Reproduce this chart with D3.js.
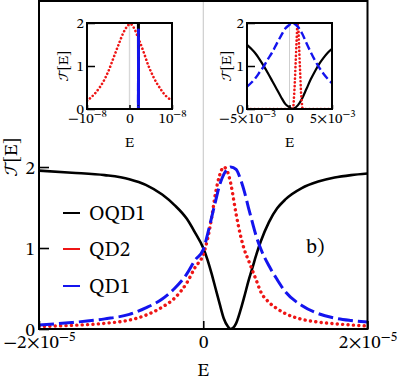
<!DOCTYPE html>
<html><head><meta charset="utf-8">
<script src="https://cdn.jsdelivr.net/npm/d3@7"></script>
<style>
svg text, svg tspan { font-family: "STIX Two Math" !important; }
</style>
</head><body style="margin:0">
<svg id="c" width="399" height="382"></svg>
<script>
// ---------------- DATA ----------------
// Main panel
const mainE = [-2.0e-5,-1.6e-5,-1.2e-5,-0.9e-5,-0.7e-5,-0.5e-5,-0.35e-5,-0.2e-5,-0.1e-5,0,
  0.05e-5,0.1e-5,0.15e-5,0.2e-5,0.25e-5,0.3e-5,0.334e-5,0.4e-5,0.45e-5,0.5e-5,
  0.55e-5,0.6e-5,0.65e-5,0.7e-5,0.8e-5,0.9e-5,1.0e-5,1.2e-5,1.4e-5,1.6e-5,1.8e-5,2.0e-5];
const mainOQD1 = [1.955,1.93,1.90,1.85,1.78,1.66,1.53,1.36,1.19,1.00,
  0.86,0.69,0.50,0.31,0.13,0.03,0.0,0.07,0.22,0.40,
  0.59,0.76,0.93,1.08,1.32,1.49,1.60,1.74,1.82,1.87,1.90,1.92];
const mainQD2 = [0.03,0.045,0.07,0.11,0.17,0.27,0.38,0.57,0.76,0.92,
  1.10,1.36,1.68,1.90,2.00,1.93,1.80,1.42,1.17,0.98,
  0.85,0.72,0.59,0.46,0.33,0.25,0.19,0.12,0.085,0.065,0.05,0.037];
const mainQD1 = [0.05,0.08,0.125,0.18,0.26,0.37,0.50,0.68,0.85,0.98,
  1.16,1.37,1.58,1.78,1.91,1.98,2.00,1.97,1.86,1.70,
  1.50,1.31,1.13,0.99,0.78,0.61,0.46,0.29,0.19,0.135,0.105,0.085];
const mainXTicks = [-2e-5, 0, 2e-5];
const mainYTicks = [0, 1, 2];
const legendLabels = ["OQD1", "QD2", "QD1"];

// Left inset (E ~ 1e-8)
const insLRedE   = [-1e-8,-0.78e-8,-0.62e-8,-0.5e-8,-0.38e-8,-0.26e-8,-0.15e-8,-0.03e-8,0.02e-8,0.09e-8,0.21e-8,0.33e-8,0.44e-8,0.56e-8,0.72e-8,0.87e-8,1e-8];
const insLQD2    = [0.19,0.40,0.63,0.87,1.18,1.49,1.76,1.95,1.98,1.91,1.64,1.33,1.02,0.75,0.48,0.29,0.20];
const insLSpikeE = [-1e-8,0.2e-8,0.205e-8,0.215e-8,0.22e-8,1e-8];
const insLQD1    = [0,0,1.84,1.84,0,0];
const insLOQD1   = [2,2,0,0,2,2];
const insLXTicks = [-1e-8, 0, 1e-8];
const insYTicks  = [0, 1, 2];

// Right inset (E ~ 1e-3)
const insRE = [-5e-3,-4.5e-3,-4e-3,-3.5e-3,-3e-3,-2.5e-3,-2e-3,-1.5e-3,-1e-3,-0.5e-3,0,0.3e-3,0.5e-3,1e-3,1.5e-3,2e-3,2.5e-3,3e-3,3.5e-3,4e-3,4.5e-3,5e-3];
const insRQD1  = [0.52,0.61,0.72,0.86,1.00,1.17,1.33,1.52,1.70,1.87,1.96,2.00,1.99,1.91,1.75,1.53,1.32,1.13,0.96,0.82,0.70,0.60];
const insROQD1 = [1.49,1.40,1.29,1.15,0.99,0.82,0.64,0.46,0.28,0.12,0.04,0.0,0.01,0.09,0.25,0.47,0.69,0.88,1.05,1.19,1.31,1.40];
const insRRedE = [-5e-3,0.3e-3,0.45e-3,0.6e-3,0.75e-3,0.9e-3,0.95e-3,1.05e-3,1.2e-3,1.35e-3,1.5e-3,1.7e-3,5e-3];
const insRQD2  = [0,0,0.03,0.5,1.2,1.9,2.0,1.85,1.1,0.4,0.03,0,0];
const insRXTicks = [-5e-3, 0, 5e-3];

// ---------------- STYLES ----------------
const FONT = "STIX Two Math";
const COL = {OQD1:"#000000", QD2:"#ee1515", QD1:"#1414ee"};

const svg = d3.select("#c");
let clipId = 0;

function fmtTick(v){
  if (v === 0) return {base:"0", sup:null};
  const e = Math.floor(Math.log10(Math.abs(v)) + 1e-9);
  const m = Math.round(v / Math.pow(10, e));
  const sign = m < 0 ? "\u2212" : "";
  const am = Math.abs(m);
  const base = am === 1 ? sign + "10" : sign + am + "\u00d710";
  const sup = (e < 0 ? "\u2212" : "") + Math.abs(e);
  return {base, sup};
}

function txt(sel, size){
  return sel.attr("font-family", FONT).attr("font-size", size);
}

function panel(cfg){
  const x = d3.scaleLinear().domain(cfg.xDomain).range([cfg.x0, cfg.x1]);
  const y = d3.scaleLinear().domain(cfg.yDomain).range([cfg.y1, cfg.y0]);
  const g = svg.append("g");
  if (cfg.bg) g.append("rect").attr("x",cfg.x0).attr("y",cfg.y0).attr("width",cfg.x1-cfg.x0).attr("height",cfg.y1-cfg.y0).attr("fill","#fff");
  const id = "clip" + (clipId++);
  g.append("clipPath").attr("id", id).append("rect")
    .attr("x",cfg.x0).attr("y",cfg.y0).attr("width",cfg.x1-cfg.x0).attr("height",cfg.y1-cfg.y0);
  g.append("line").attr("x1",x(0)).attr("x2",x(0)).attr("y1",cfg.y0).attr("y2",cfg.y1)
    .attr("stroke",cfg.zeroCol).attr("stroke-width",cfg.zeroW);
  const plot = g.append("g").attr("clip-path",`url(#${id})`);
  cfg.series.forEach(s=>{
    const pts = s.E.map((e,i)=>[e, s.T[i]]);
    const line = d3.line().x(d=>x(d[0])).y(d=>y(d[1])).curve(s.curve || d3.curveMonotoneX);
    const p = plot.append("path").datum(pts).attr("d", line).attr("fill","none")
      .attr("stroke", s.color).attr("stroke-width", s.width)
      .attr("stroke-linejoin","round");
    if (s.dash) p.attr("stroke-dasharray", s.dash);
    if (s.cap) p.attr("stroke-linecap", s.cap);
    if (s.solidAbove != null){
      const id2 = "clip" + (clipId++);
      g.append("clipPath").attr("id", id2).append("rect")
        .attr("x",cfg.x0).attr("y",cfg.y0).attr("width",cfg.x1-cfg.x0).attr("height",y(s.solidAbove)-cfg.y0);
      g.append("path").datum(pts).attr("d", line).attr("fill","none")
        .attr("stroke", s.color).attr("stroke-width", s.width).attr("clip-path",`url(#${id2})`);
    }
  });
  const yAx = d3.axisLeft(y).tickValues(cfg.yTicks).tickSize(-cfg.yTickLen).tickPadding(cfg.yPad).tickFormat(d3.format("d"));
  const gy = g.append("g").attr("transform",`translate(${cfg.x0},0)`).call(yAx);
  const xAx = d3.axisBottom(x).tickValues(cfg.xTicks).tickSize(-cfg.xTickLen).tickPadding(cfg.xPad);
  const gx = g.append("g").attr("transform",`translate(0,${cfg.y1})`).call(xAx);
  [gx, gy].forEach(a=>{
    a.select(".domain").remove();
    a.attr("font-family",FONT).attr("font-size",cfg.fs);
    a.selectAll(".tick line").attr("stroke","#000").attr("stroke-width",cfg.tickW);
    txt(a.selectAll(".tick text").attr("fill","#000"), cfg.fs);
  });
  gx.selectAll(".tick text").each(function(d){
    const t = d3.select(this); const f = fmtTick(d);
    t.text(null);
    t.append("tspan").text(f.base);
    if (f.sup) t.append("tspan").attr("font-size", cfg.fs*0.72).attr("dy",-(cfg.fs*0.4)).text(f.sup);
  });
  g.append("rect").attr("x",cfg.x0).attr("y",cfg.y0).attr("width",cfg.x1-cfg.x0).attr("height",cfg.y1-cfg.y0)
    .attr("fill","none").attr("stroke","#000").attr("stroke-width",cfg.frameW);
  txt(g.append("text"), cfg.labFs).attr("x",(cfg.x0+cfg.x1)/2).attr("y",cfg.xLabY).attr("text-anchor","middle").text("E");
  const yl = txt(g.append("text"), cfg.labFs).attr("transform",`translate(${cfg.yLabX},${cfg.yLabY}) rotate(-90)`).attr("text-anchor","middle");
  yl.append("tspan").text("\u{1D4AF}");
  yl.append("tspan").text("[E]");
  return {x,y,g};
}

// Main
panel({
  x0:39, x1:367.5, y0:1, y1:329, xDomain:[-2e-5,2e-5], yDomain:[0,4.05],
  xTicks: mainXTicks, yTicks: mainYTicks, yTickLen:10, xTickLen:8, yPad:4, xPad:6, tickW:1.6,
  fs:19, labFs:19, frameW:2, zeroCol:"#c4c4c4", zeroW:1,
  xLabY:376, yLabX:17, yLabY:157,
  series:[
    {E:mainE, T:mainOQD1, color:COL.OQD1, width:2.6},
    {E:mainE, T:mainQD2, color:COL.QD2, width:3.4, dash:"0.1,5.3", cap:"round"},
    {E:mainE, T:mainQD1, color:COL.QD1, width:3.0, dash:"15,5"}
  ]
});

// Legend
const legColors = [COL.OQD1, COL.QD2, COL.QD1];
const legY = [213, 249, 286];
legendLabels.forEach((lab,i)=>{
  svg.append("line").attr("x1",63).attr("x2",80).attr("y1",legY[i]).attr("y2",legY[i])
    .attr("stroke",legColors[i]).attr("stroke-width",2);
  txt(svg.append("text"), 21).attr("x",89).attr("y",legY[i]+7).text(lab);
});
txt(svg.append("text"), 21).attr("x",306).attr("y",253).text("b)");

// Left inset
panel({
  x0:87, x1:172, y0:23, y1:109, xDomain:[-1e-8,1e-8], yDomain:[0,2],
  xTicks: insLXTicks, yTicks: insYTicks, yTickLen:8, xTickLen:4, yPad:3, xPad:3, tickW:1.5,
  fs:15, labFs:15, frameW:2, zeroCol:"#d8d8d8", zeroW:1.4, bg:true,
  xLabY:147, yLabX:68, yLabY:66,
  series:[
    {E:insLSpikeE, T:insLOQD1, color:COL.OQD1, width:2.2, curve:d3.curveLinear},
    {E:insLRedE, T:insLQD2, color:COL.QD2, width:2.6, dash:"0.1,3.7", cap:"round"},
    {E:insLSpikeE, T:insLQD1, color:COL.QD1, width:2.2, dash:"8,3.5", curve:d3.curveLinear, solidAbove:0.08}
  ]
});

// Right inset
panel({
  x0:247, x1:332, y0:23, y1:109, xDomain:[-5e-3,5e-3], yDomain:[0,2],
  xTicks: insRXTicks, yTicks: insYTicks, yTickLen:8, xTickLen:4, yPad:3, xPad:3, tickW:1.5,
  fs:15, labFs:15, frameW:2, zeroCol:"#cfcfcf", zeroW:1, bg:true,
  xLabY:147, yLabX:231, yLabY:66,
  series:[
    {E:insRE, T:insROQD1, color:COL.OQD1, width:2.2},
    {E:insRRedE, T:insRQD2, color:COL.QD2, width:2.6, dash:"0.1,3.7", cap:"round", curve:d3.curveLinear},
    {E:insRE, T:insRQD1, color:COL.QD1, width:2.4, dash:"8,3.5"}
  ]
});
</script>
</body></html>
